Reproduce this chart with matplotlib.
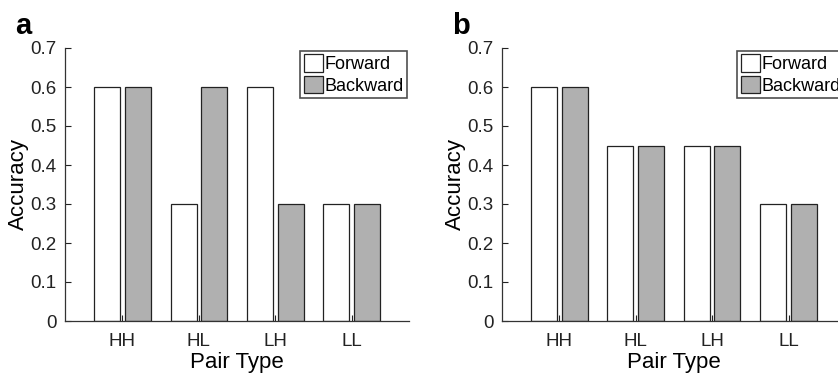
import matplotlib.pyplot as plt
import numpy as np

plt.rcParams['font.family'] = ['Liberation Sans', 'DejaVu Sans']

pair_types = ['HH', 'HL', 'LH', 'LL']
forward_a = [0.6, 0.3, 0.6, 0.3]
backward_a = [0.6, 0.6, 0.3, 0.3]
forward_b = [0.6, 0.45, 0.45, 0.3]
backward_b = [0.6, 0.45, 0.45, 0.3]
yticks = [0, 0.1, 0.2, 0.3, 0.4, 0.5, 0.6, 0.7]

fig = plt.figure(figsize=(8.38, 3.75), dpi=100)


def draw_panel(ax, fwd, bwd, letter):
    x = np.arange(1, len(pair_types) + 1)
    w = 0.34
    ax.bar(x - 0.2, fwd, w, color='white', edgecolor='#222222', linewidth=0.9, label='Forward')
    ax.bar(x + 0.2, bwd, w, color='#b0b0b0', edgecolor='#222222', linewidth=0.9, label='Backward')
    ax.set_xlim(0.25, 4.75)
    ax.set_ylim(0, 0.7)
    ax.set_xticks(x)
    ax.set_xticklabels(pair_types)
    ax.set_yticks(yticks)
    ax.set_yticklabels(['0', '0.1', '0.2', '0.3', '0.4', '0.5', '0.6', '0.7'])
    ax.tick_params(direction='in', labelsize=13.5, length=4, width=0.8, colors='#222222', pad=6)
    ax.tick_params(axis='x', pad=9)
    for s in ['top', 'right']:
        ax.spines[s].set_visible(False)
    for s in ['left', 'bottom']:
        ax.spines[s].set_linewidth(0.9)
        ax.spines[s].set_color('#333333')
    ax.set_xlabel('Pair Type', fontsize=16, labelpad=1)
    ax.set_ylabel('Accuracy', fontsize=16, labelpad=1)
    leg = ax.legend(loc='upper right', bbox_to_anchor=(0.995, 0.99), fontsize=13, frameon=True,
                    fancybox=False, edgecolor='#222222', handlelength=1.05, handleheight=1.1,
                    handletextpad=0.1, labelspacing=0.15, borderpad=0.2, borderaxespad=0.0)
    leg.get_frame().set_linewidth(1.2)
    ax.text(-0.145, 1.03, letter, transform=ax.transAxes, fontsize=21, fontweight='bold',
            ha='left', va='bottom')


ax1 = fig.add_axes([0.0776, 0.144, 0.4105, 0.728])
draw_panel(ax1, forward_a, backward_a, 'a')
ax2 = fig.add_axes([0.599, 0.144, 0.4105, 0.728])
draw_panel(ax2, forward_b, backward_b, 'b')

fig.savefig('out.png', dpi=100)
